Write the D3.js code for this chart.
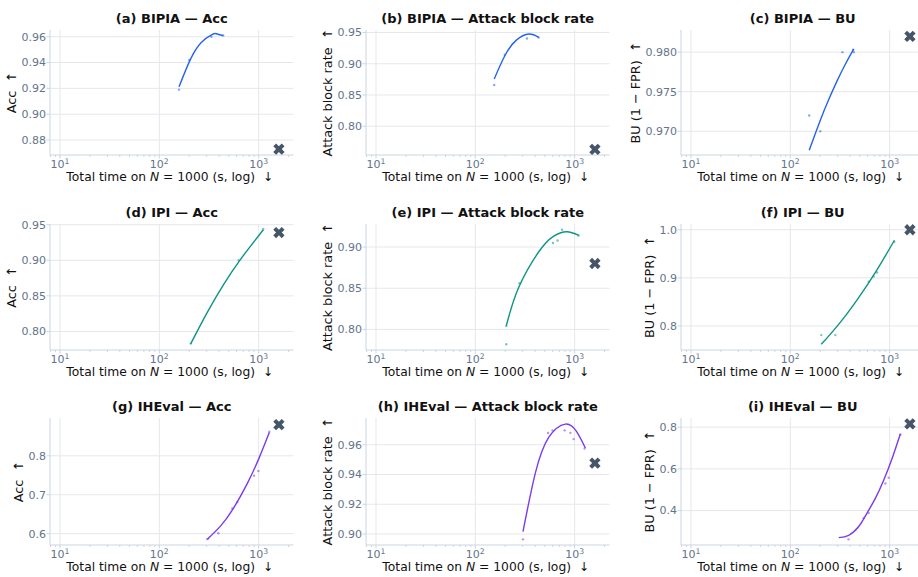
<!DOCTYPE html>
<html>
<head>
<meta charset="utf-8">
<script src="https://cdn.jsdelivr.net/npm/d3@7"></script>
<style>
  body { margin: 0; background: #fff; }
  svg { display: block; font-family: "DejaVu Sans", sans-serif; }
  text { white-space: pre; }
</style>
</head>
<body>
<svg width="918" height="577"></svg>
<script>
// ---- data ----
const titles = [
  "(a) BIPIA — Acc", "(b) BIPIA — Attack block rate", "(c) BIPIA — BU",
  "(d) IPI — Acc", "(e) IPI — Attack block rate", "(f) IPI — BU",
  "(g) IHEval — Acc", "(h) IHEval — Attack block rate", "(i) IHEval — BU"
];
const yLabels = ["Acc", "Attack block rate", "BU (1 − FPR)"];

const xLimits = [7.93, 2244];
const xMajorTicks = [10, 100, 1000];

const yLimits = [
  [0.8684, 0.9652], [0.754, 0.954], [0.967, 0.9828],
  [0.774, 0.951], [0.775, 0.928], [0.75, 1.012],
  [0.571, 0.897], [0.8926, 0.978], [0.235, 0.844]
];
const yTicks = [
  [0.88, 0.90, 0.92, 0.94, 0.96], [0.80, 0.85, 0.90, 0.95], [0.970, 0.975, 0.980],
  [0.80, 0.85, 0.90, 0.95], [0.80, 0.85, 0.90], [0.8, 0.9, 1.0],
  [0.6, 0.7, 0.8], [0.90, 0.92, 0.94, 0.96], [0.4, 0.6, 0.8]
];
const yTickFormats = [".2f", ".2f", ".3f", ".2f", ".2f", ".1f", ".1f", ".2f", ".1f"];

// scatter points [time (s), metric]
const bipiaAccPts = [[158, 0.919], [200, 0.942], [335, 0.960], [440, 0.961]];
const bipiaBlockPts = [[155, 0.866], [198, 0.9145], [331, 0.9405], [434, 0.942]];
const bipiaBuPts = [[155, 0.972], [200, 0.970], [335, 0.980], [430, 0.9803], [436, 0.980]];
const ipiAccPts = [[207, 0.783], [630, 0.900], [1114, 0.944]];
const ipiBlockPts = [[205, 0.782], [205, 0.804], [278, 0.856], [605, 0.905], [674, 0.908], [747, 0.921], [1097, 0.914]];
const ipiBuPts = [[205, 0.781], [284, 0.781], [615, 0.892], [690, 0.903], [747, 0.911], [1114, 0.975]];
const ihevalAccPts = [[304, 0.586], [393, 0.601], [543, 0.665], [609, 0.681], [900, 0.749], [994, 0.761], [1282, 0.862]];
const ihevalBlockPts = [[302, 0.8964], [540, 0.9679], [600, 0.9697], [793, 0.9697], [906, 0.968], [978, 0.9638], [1260, 0.9575]];
const ihevalBuPts = [[386, 0.262], [547, 0.364], [615, 0.388], [906, 0.530], [978, 0.558], [1282, 0.765]];

// fitted trend
const bipiaAccFit = [[158, 0.9213], [204, 0.9419], [263, 0.9554], [342, 0.9618], [375, 0.9623], [441, 0.9608]];
const bipiaBlockFit = [[155, 0.8757], [200, 0.9140], [259, 0.9378], [347, 0.9475], [434, 0.9421]];
const bipiaBuFit = [[155, 0.9676], [200, 0.97137], [243, 0.97398], [295, 0.97634], [358, 0.97847], [434, 0.98038]];
const ipiAccFit = [[207, 0.7827], [305, 0.8272], [448, 0.8668], [660, 0.9017], [1116, 0.943]];
const ipiBlockFit = [[205, 0.8044], [273, 0.8508], [434, 0.894], [606, 0.9127], [832, 0.9186], [1098, 0.9142]];
const ipiBuFit = [[205, 0.7618], [314, 0.8060], [480, 0.8570], [735, 0.9146], [1115, 0.9778]];
const ihevalAccFit = [[305, 0.5861], [415, 0.6201], [557, 0.6651], [770, 0.7291], [1009, 0.794], [1282, 0.8601]];
const ihevalBlockFit = [[302, 0.9016], [402, 0.9409], [548, 0.9649], [806, 0.9739], [1040, 0.9691], [1282, 0.9578]];
const ihevalBuFit = [[307, 0.2704], [387, 0.2817], [488, 0.3236], [592, 0.3882], [718, 0.4586], [871, 0.5453], [1056, 0.6483], [1282, 0.7676]];

// baseline (x marker)
const baselinePts = [
  [1600, 0.873], [1600, 0.763], [1600, 0.982],
  [1600, 0.939], [1600, 0.880], [1600, 1.000],
  [1600, 0.880], [1600, 0.9477], [1600, 0.816]
];

const scatterSets = [bipiaAccPts, bipiaBlockPts, bipiaBuPts, ipiAccPts, ipiBlockPts, ipiBuPts, ihevalAccPts, ihevalBlockPts, ihevalBuPts];
const fitSets = [bipiaAccFit, bipiaBlockFit, bipiaBuFit, ipiAccFit, ipiBlockFit, ipiBuFit, ihevalAccFit, ihevalBlockFit, ihevalBuFit];

// ---- layout / style ----
const rowColors = ["#2563eb", "#0d9488", "#7c3aed"];
const colLeft = [50, 366, 681];
const rowTop = [30, 224, 418];
const rowBottom = [155, 350, 545];
const plotW = 243.5;
const gridColor = "#e5e7eb";
const spineColor = "#cbd5e1";
const tickText = "#64748b";

const svg = d3.select("svg");

const minorTicks = [];
[1, 10, 100, 1000].forEach(p => {
  for (let k = 2; k <= 9; k++) {
    const v = k * p;
    if (v > xLimits[0] && v < xLimits[1]) minorTicks.push(v);
  }
});

titles.forEach((title, i) => {
  const r = Math.floor(i / 3), c = i % 3;
  const h = rowBottom[r] - rowTop[r];
  const color = rowColors[r];

  const g = svg.append("g")
    .attr("transform", `translate(${colLeft[c]},${rowTop[r]})`);

  const x = d3.scaleLog().domain(xLimits).range([0, plotW]);
  const y = d3.scaleLinear().domain(yLimits[i]).range([h, 0]);

  // grid
  g.selectAll(".gx").data(xMajorTicks).join("line")
    .attr("x1", d => x(d)).attr("x2", d => x(d))
    .attr("y1", 0).attr("y2", h)
    .attr("stroke", gridColor).attr("stroke-width", 1);
  g.selectAll(".gy").data(yTicks[i]).join("line")
    .attr("x1", 0).attr("x2", plotW)
    .attr("y1", d => y(d)).attr("y2", d => y(d))
    .attr("stroke", gridColor).attr("stroke-width", 1);

  // spines
  g.append("line").attr("x1", 0).attr("x2", 0).attr("y1", 0).attr("y2", h)
    .attr("stroke", spineColor).attr("stroke-width", 1);
  g.append("line").attr("x1", 0).attr("x2", plotW).attr("y1", h).attr("y2", h)
    .attr("stroke", spineColor).attr("stroke-width", 1);

  // x ticks
  g.selectAll(".mx").data(xMajorTicks).join("line")
    .attr("x1", d => x(d)).attr("x2", d => x(d))
    .attr("y1", h).attr("y2", h + 3.5)
    .attr("stroke", spineColor);
  g.selectAll(".nx").data(minorTicks).join("line")
    .attr("x1", d => x(d)).attr("x2", d => x(d))
    .attr("y1", h).attr("y2", h + 2)
    .attr("stroke", spineColor);

  const xl = g.selectAll(".xl").data(xMajorTicks).join("text")
    .attr("x", d => x(d)).attr("y", h + 13)
    .attr("text-anchor", "middle")
    .attr("font-size", 11).attr("fill", tickText)
    .text("10");
  xl.append("tspan").attr("font-size", 7.7).attr("dy", -4.5)
    .text(d => Math.round(Math.log10(d)));

  // y ticks
  const fmt = d3.format(yTickFormats[i]);
  g.selectAll(".my").data(yTicks[i]).join("line")
    .attr("x1", -3.5).attr("x2", 0)
    .attr("y1", d => y(d)).attr("y2", d => y(d))
    .attr("stroke", spineColor);
  const yl = g.selectAll(".yl").data(yTicks[i]).join("text")
    .attr("x", -4).attr("y", d => y(d)).attr("dy", "0.35em")
    .attr("text-anchor", "end")
    .attr("font-size", 11).attr("fill", tickText)
    .text(d => fmt(d));
  const maxW = d3.max(yl.nodes(), n => n.getBBox().width);

  // axis labels
  g.append("text")
    .attr("transform", `translate(${-4 - maxW - 10},${h / 2}) rotate(-90)`)
    .attr("text-anchor", "middle").attr("dy", "0.35em")
    .attr("font-size", 12.8).attr("fill", "#111")
    .text(yLabels[c] + "  ↑");

  const xt = g.append("text")
    .attr("x", plotW / 2 - 2).attr("y", h + 26)
    .attr("text-anchor", "middle")
    .attr("font-size", 12.3).attr("fill", "#111");
  xt.append("tspan").text("Total time on ");
  xt.append("tspan").attr("font-style", "italic").text("N");
  xt.append("tspan").text(" = 1000 (s, log)  ↓");

  // title
  g.append("text")
    .attr("x", plotW / 2).attr("y", -7.5)
    .attr("text-anchor", "middle")
    .attr("font-size", 13).attr("font-weight", "bold").attr("fill", "#111")
    .text(title);

  // scatter
  g.selectAll(".pt").data(scatterSets[i]).join("circle")
    .attr("cx", d => x(d[0])).attr("cy", d => y(d[1]))
    .attr("r", 1.2)
    .attr("fill", color).attr("opacity", 0.55);

  // fit curve
  const line = d3.line()
    .x(d => x(d[0])).y(d => y(d[1]))
    .curve(d3.curveNatural);
  g.append("path")
    .attr("d", line(fitSets[i]))
    .attr("fill", "none")
    .attr("stroke", color).attr("stroke-width", 1.4);

  // baseline marker
  const b = baselinePts[i];
  g.append("path")
    .attr("d", d3.symbol(d3.symbolCross, 80)())
    .attr("transform", `translate(${x(b[0])},${y(b[1])}) rotate(45)`)
    .attr("fill", "#475569");
});
</script>
</body>
</html>
